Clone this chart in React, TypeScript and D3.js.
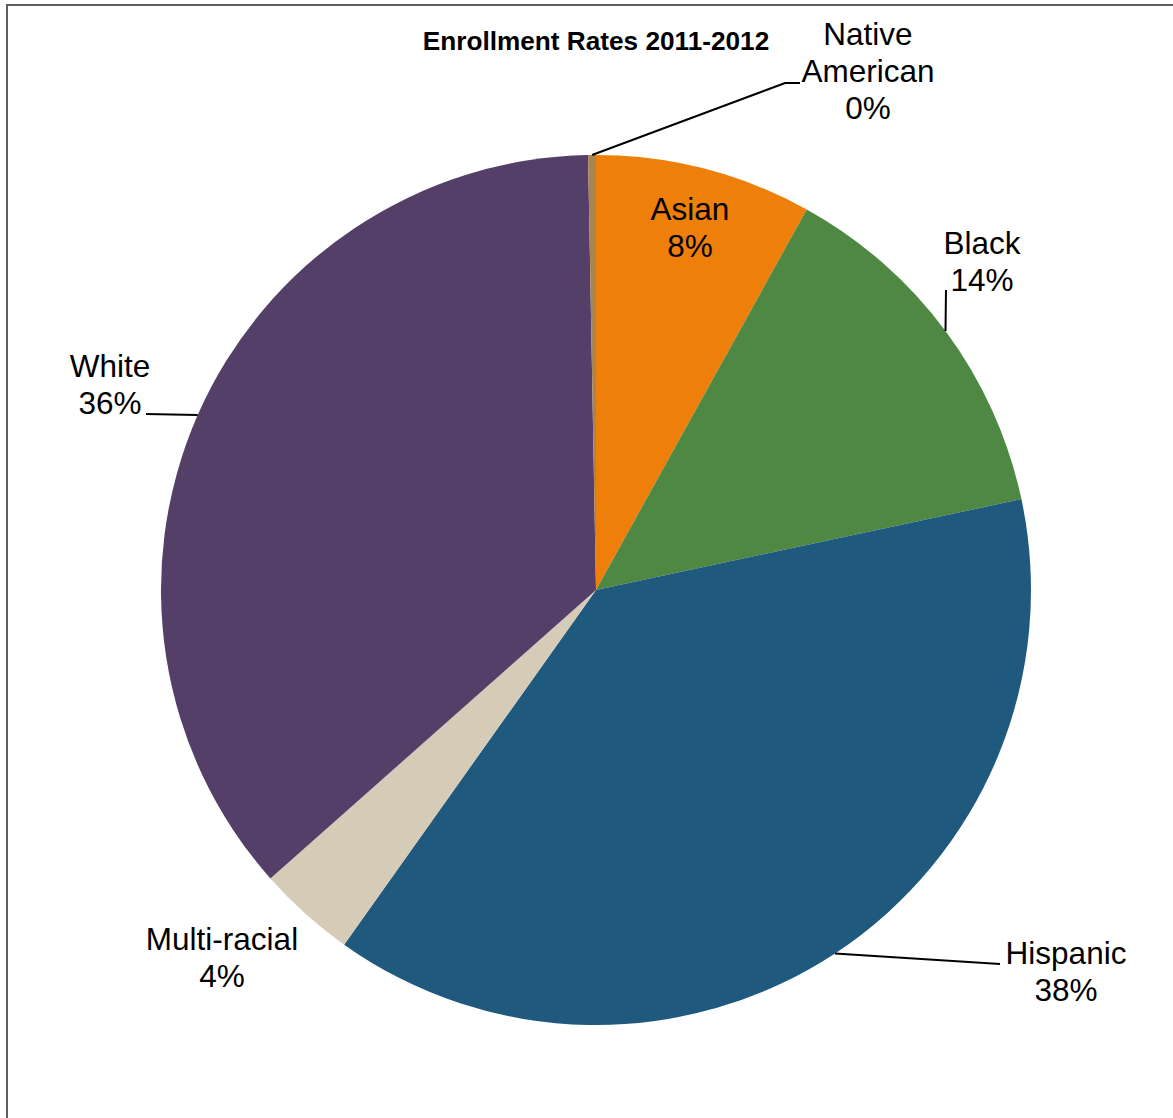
import React from "react";
import * as d3 from "d3";

const categories = ["Asian", "Black", "Hispanic", "Multi-racial", "White", "Native American"];
const values = [8.05, 13.6, 38.18, 3.63, 36.25, 0.29];
const colors = ["#EE7F0B", "#4E8843", "#1F5A7E", "#D5CBB6", "#543F69", "#A9844F"];
const labelLines = [["Asian"], ["Black"], ["Hispanic"], ["Multi-racial"], ["White"], ["Native", "American"]];
const title = "Enrollment Rates 2011-2012";

// layout for labels (center x, first line center y) and leader elbows
const labelLayout = [
  { x: 690, y: 209, leader: null },
  { x: 982, y: 243, leader: [[946, 290]] },
  { x: 1066, y: 953, leader: [[1000, 964]] },
  { x: 222, y: 939, leader: null },
  { x: 110, y: 366, leader: [[146, 414]] },
  { x: 868, y: 34, leader: [[785, 83], [800, 83]] },
];

const W = 1173;
const H = 1118;
const cx = 596;
const cy = 590;
const R = 435;

export default function App() {
  const pie = d3.pie<number>().sort(null).value((d) => d).startAngle(0).endAngle(2 * Math.PI);
  const arcs = pie(values);
  const arc = d3.arc<d3.PieArcDatum<number>>().innerRadius(0).outerRadius(R);
  const total = d3.sum(values);
  const fontSize = 31.5;
  const lh = 37;

  return (
    <svg
      width={W}
      height={H}
      style={{ position: "absolute", left: 0, top: 0, background: "#fff" }}
      fontFamily="'Liberation Sans', Arial, sans-serif"
    >
      <rect x={7} y={5} width={W + 20} height={H + 20} fill="#fff" stroke="#5f5f5f" strokeWidth={2} />
      <text x={596} y={41} textAnchor="middle" dominantBaseline="central" fontWeight="bold" fontSize={26.2} fill="#000">
        {title}
      </text>
      <g transform={`translate(${cx},${cy})`}>
        {arcs.map((a, i) => (
          <path key={categories[i]} d={arc(a) || ""} fill={colors[i]} />
        ))}
      </g>
      {arcs.map((a, i) => {
        const lay = labelLayout[i];
        if (!lay.leader) return null;
        const mid = (a.startAngle + a.endAngle) / 2;
        const sx = cx + R * Math.sin(mid);
        const sy = cy - R * Math.cos(mid);
        const pts = [[sx, sy], ...lay.leader];
        const line = d3.line()(pts as [number, number][]);
        return <path key={"l" + i} d={line || ""} fill="none" stroke="#000" strokeWidth={2} />;
      })}
      {arcs.map((a, i) => {
        const lay = labelLayout[i];
        const pct = Math.round((a.data / total) * 100) + "%";
        const lines = [...labelLines[i], pct];
        return (
          <text key={"t" + i} textAnchor="middle" fontSize={fontSize} fill="#000">
            {lines.map((s, k) => (
              <tspan key={k} x={lay.x} y={lay.y + k * lh} dominantBaseline="central">
                {s}
              </tspan>
            ))}
          </text>
        );
      })}
    </svg>
  );
}
